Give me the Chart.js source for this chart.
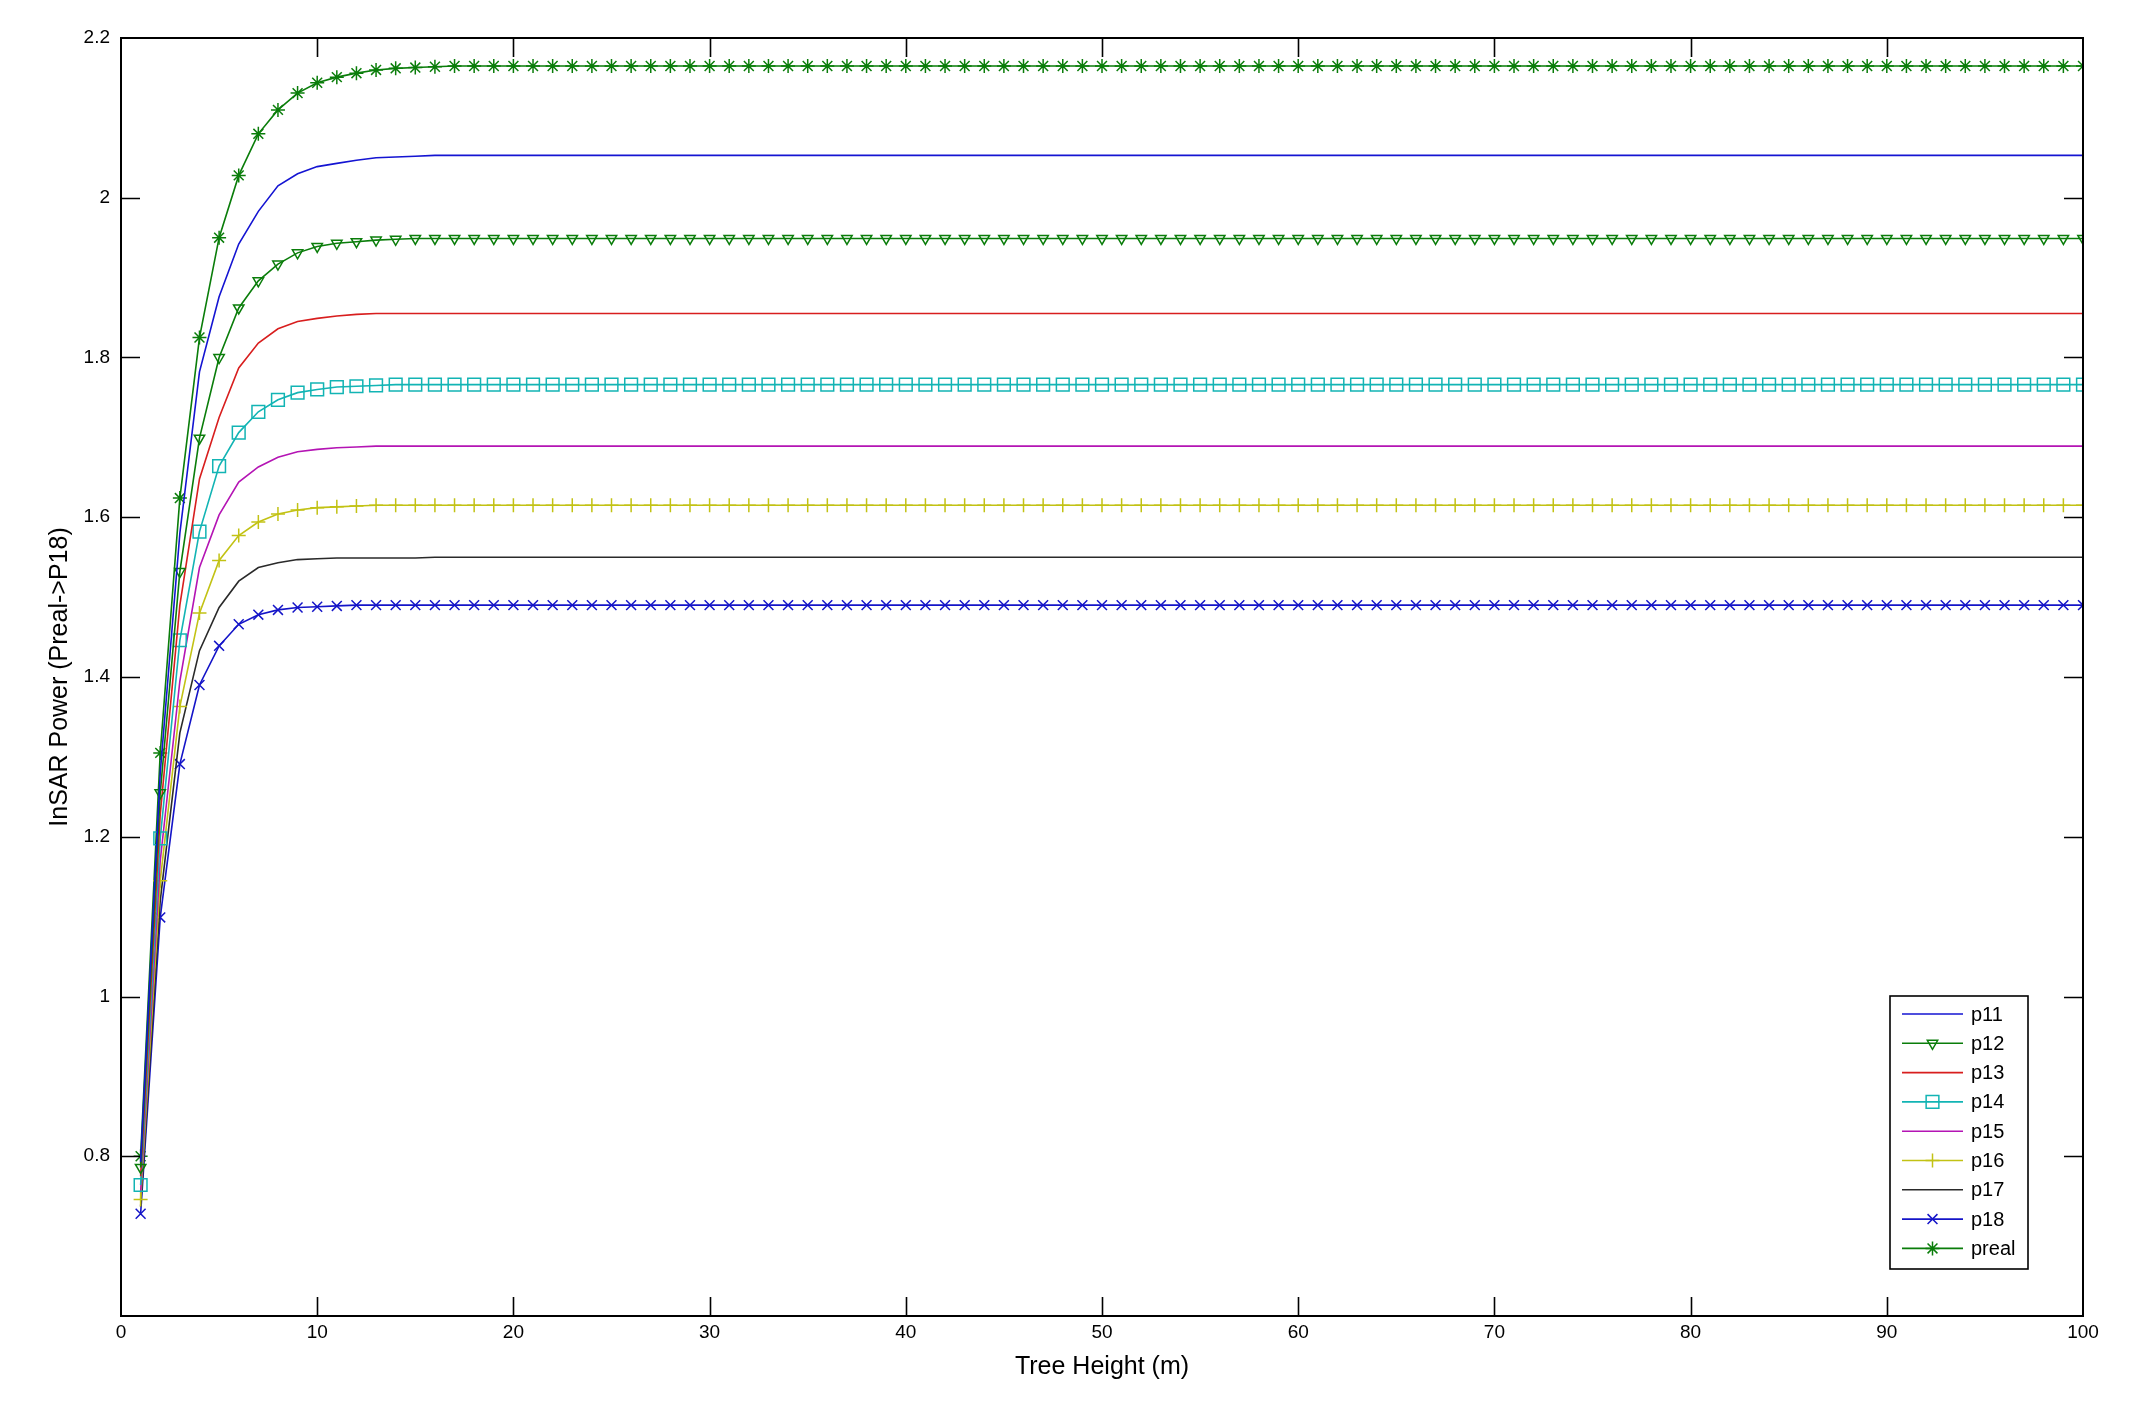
<!DOCTYPE html>
<html>
<head>
<meta charset="utf-8">
<title>InSAR Power vs Tree Height</title>
<script src="https://cdn.jsdelivr.net/npm/chart.js"></script>
<style>
  html, body { margin: 0; padding: 0; background: #fff; }
  #plot { display: block; }
</style>
</head>
<body>
<canvas id="plot" width="2138" height="1401"></canvas>
<script>
// Tree height samples (m), one per marker
const HEIGHTS = [
  1, 2, 3, 4, 5, 6, 7, 8, 9, 10,
  11, 12, 13, 14, 15, 16, 17, 18, 19, 20,
  21, 22, 23, 24, 25, 26, 27, 28, 29, 30,
  31, 32, 33, 34, 35, 36, 37, 38, 39, 40,
  41, 42, 43, 44, 45, 46, 47, 48, 49, 50,
  51, 52, 53, 54, 55, 56, 57, 58, 59, 60,
  61, 62, 63, 64, 65, 66, 67, 68, 69, 70,
  71, 72, 73, 74, 75, 76, 77, 78, 79, 80,
  81, 82, 83, 84, 85, 86, 87, 88, 89, 90,
  91, 92, 93, 94, 95, 96, 97, 98, 99, 100,
];

// InSAR power, x = 1..100
const P11 = [
  0.793, 1.280, 1.580, 1.782, 1.876, 1.942, 1.983, 2.015, 2.030, 2.039,
  2.043, 2.047, 2.050, 2.051, 2.052, 2.053, 2.053, 2.053, 2.053, 2.053,
  2.053, 2.053, 2.053, 2.053, 2.053, 2.053, 2.053, 2.053, 2.053, 2.053,
  2.053, 2.053, 2.053, 2.053, 2.053, 2.053, 2.053, 2.053, 2.053, 2.053,
  2.053, 2.053, 2.053, 2.053, 2.053, 2.053, 2.053, 2.053, 2.053, 2.053,
  2.053, 2.053, 2.053, 2.053, 2.053, 2.053, 2.053, 2.053, 2.053, 2.053,
  2.053, 2.053, 2.053, 2.053, 2.053, 2.053, 2.053, 2.053, 2.053, 2.053,
  2.053, 2.053, 2.053, 2.053, 2.053, 2.053, 2.053, 2.053, 2.053, 2.053,
  2.053, 2.053, 2.053, 2.053, 2.053, 2.053, 2.053, 2.053, 2.053, 2.053,
  2.053, 2.053, 2.053, 2.053, 2.053, 2.053, 2.053, 2.053, 2.053, 2.053,
];
const P12 = [
  0.786, 1.255, 1.532, 1.699, 1.800, 1.862, 1.896, 1.917, 1.931, 1.939,
  1.943, 1.945, 1.947, 1.948, 1.949, 1.949, 1.949, 1.949, 1.949, 1.949,
  1.949, 1.949, 1.949, 1.949, 1.949, 1.949, 1.949, 1.949, 1.949, 1.949,
  1.949, 1.949, 1.949, 1.949, 1.949, 1.949, 1.949, 1.949, 1.949, 1.949,
  1.949, 1.949, 1.949, 1.949, 1.949, 1.949, 1.949, 1.949, 1.949, 1.949,
  1.949, 1.949, 1.949, 1.949, 1.949, 1.949, 1.949, 1.949, 1.949, 1.949,
  1.949, 1.949, 1.949, 1.949, 1.949, 1.949, 1.949, 1.949, 1.949, 1.949,
  1.949, 1.949, 1.949, 1.949, 1.949, 1.949, 1.949, 1.949, 1.949, 1.949,
  1.949, 1.949, 1.949, 1.949, 1.949, 1.949, 1.949, 1.949, 1.949, 1.949,
  1.949, 1.949, 1.949, 1.949, 1.949, 1.949, 1.949, 1.949, 1.949, 1.949,
];
const P13 = [
  0.775, 1.228, 1.490, 1.648, 1.725, 1.787, 1.818, 1.836, 1.845, 1.849,
  1.852, 1.854, 1.855, 1.855, 1.855, 1.855, 1.855, 1.855, 1.855, 1.855,
  1.855, 1.855, 1.855, 1.855, 1.855, 1.855, 1.855, 1.855, 1.855, 1.855,
  1.855, 1.855, 1.855, 1.855, 1.855, 1.855, 1.855, 1.855, 1.855, 1.855,
  1.855, 1.855, 1.855, 1.855, 1.855, 1.855, 1.855, 1.855, 1.855, 1.855,
  1.855, 1.855, 1.855, 1.855, 1.855, 1.855, 1.855, 1.855, 1.855, 1.855,
  1.855, 1.855, 1.855, 1.855, 1.855, 1.855, 1.855, 1.855, 1.855, 1.855,
  1.855, 1.855, 1.855, 1.855, 1.855, 1.855, 1.855, 1.855, 1.855, 1.855,
  1.855, 1.855, 1.855, 1.855, 1.855, 1.855, 1.855, 1.855, 1.855, 1.855,
  1.855, 1.855, 1.855, 1.855, 1.855, 1.855, 1.855, 1.855, 1.855, 1.855,
];
const P14 = [
  0.764, 1.198, 1.446, 1.582, 1.664, 1.706, 1.732, 1.747, 1.756, 1.760,
  1.763, 1.764, 1.765, 1.766, 1.766, 1.766, 1.766, 1.766, 1.766, 1.766,
  1.766, 1.766, 1.766, 1.766, 1.766, 1.766, 1.766, 1.766, 1.766, 1.766,
  1.766, 1.766, 1.766, 1.766, 1.766, 1.766, 1.766, 1.766, 1.766, 1.766,
  1.766, 1.766, 1.766, 1.766, 1.766, 1.766, 1.766, 1.766, 1.766, 1.766,
  1.766, 1.766, 1.766, 1.766, 1.766, 1.766, 1.766, 1.766, 1.766, 1.766,
  1.766, 1.766, 1.766, 1.766, 1.766, 1.766, 1.766, 1.766, 1.766, 1.766,
  1.766, 1.766, 1.766, 1.766, 1.766, 1.766, 1.766, 1.766, 1.766, 1.766,
  1.766, 1.766, 1.766, 1.766, 1.766, 1.766, 1.766, 1.766, 1.766, 1.766,
  1.766, 1.766, 1.766, 1.766, 1.766, 1.766, 1.766, 1.766, 1.766, 1.766,
];
const P15 = [
  0.755, 1.170, 1.395, 1.537, 1.603, 1.644, 1.663, 1.675, 1.682, 1.685,
  1.687, 1.688, 1.689, 1.689, 1.689, 1.689, 1.689, 1.689, 1.689, 1.689,
  1.689, 1.689, 1.689, 1.689, 1.689, 1.689, 1.689, 1.689, 1.689, 1.689,
  1.689, 1.689, 1.689, 1.689, 1.689, 1.689, 1.689, 1.689, 1.689, 1.689,
  1.689, 1.689, 1.689, 1.689, 1.689, 1.689, 1.689, 1.689, 1.689, 1.689,
  1.689, 1.689, 1.689, 1.689, 1.689, 1.689, 1.689, 1.689, 1.689, 1.689,
  1.689, 1.689, 1.689, 1.689, 1.689, 1.689, 1.689, 1.689, 1.689, 1.689,
  1.689, 1.689, 1.689, 1.689, 1.689, 1.689, 1.689, 1.689, 1.689, 1.689,
  1.689, 1.689, 1.689, 1.689, 1.689, 1.689, 1.689, 1.689, 1.689, 1.689,
  1.689, 1.689, 1.689, 1.689, 1.689, 1.689, 1.689, 1.689, 1.689, 1.689,
];
const P16 = [
  0.746, 1.145, 1.363, 1.480, 1.546, 1.577, 1.594, 1.604, 1.609, 1.612,
  1.613, 1.614, 1.615, 1.615, 1.615, 1.615, 1.615, 1.615, 1.615, 1.615,
  1.615, 1.615, 1.615, 1.615, 1.615, 1.615, 1.615, 1.615, 1.615, 1.615,
  1.615, 1.615, 1.615, 1.615, 1.615, 1.615, 1.615, 1.615, 1.615, 1.615,
  1.615, 1.615, 1.615, 1.615, 1.615, 1.615, 1.615, 1.615, 1.615, 1.615,
  1.615, 1.615, 1.615, 1.615, 1.615, 1.615, 1.615, 1.615, 1.615, 1.615,
  1.615, 1.615, 1.615, 1.615, 1.615, 1.615, 1.615, 1.615, 1.615, 1.615,
  1.615, 1.615, 1.615, 1.615, 1.615, 1.615, 1.615, 1.615, 1.615, 1.615,
  1.615, 1.615, 1.615, 1.615, 1.615, 1.615, 1.615, 1.615, 1.615, 1.615,
  1.615, 1.615, 1.615, 1.615, 1.615, 1.615, 1.615, 1.615, 1.615, 1.615,
];
const P17 = [
  0.737, 1.120, 1.330, 1.433, 1.487, 1.520, 1.537, 1.543, 1.547, 1.548,
  1.549, 1.549, 1.549, 1.549, 1.549, 1.550, 1.550, 1.550, 1.550, 1.550,
  1.550, 1.550, 1.550, 1.550, 1.550, 1.550, 1.550, 1.550, 1.550, 1.550,
  1.550, 1.550, 1.550, 1.550, 1.550, 1.550, 1.550, 1.550, 1.550, 1.550,
  1.550, 1.550, 1.550, 1.550, 1.550, 1.550, 1.550, 1.550, 1.550, 1.550,
  1.550, 1.550, 1.550, 1.550, 1.550, 1.550, 1.550, 1.550, 1.550, 1.550,
  1.550, 1.550, 1.550, 1.550, 1.550, 1.550, 1.550, 1.550, 1.550, 1.550,
  1.550, 1.550, 1.550, 1.550, 1.550, 1.550, 1.550, 1.550, 1.550, 1.550,
  1.550, 1.550, 1.550, 1.550, 1.550, 1.550, 1.550, 1.550, 1.550, 1.550,
  1.550, 1.550, 1.550, 1.550, 1.550, 1.550, 1.550, 1.550, 1.550, 1.550,
];
const P18 = [
  0.728, 1.099, 1.291, 1.390, 1.439, 1.466, 1.478, 1.484, 1.487, 1.488,
  1.489, 1.490, 1.490, 1.490, 1.490, 1.490, 1.490, 1.490, 1.490, 1.490,
  1.490, 1.490, 1.490, 1.490, 1.490, 1.490, 1.490, 1.490, 1.490, 1.490,
  1.490, 1.490, 1.490, 1.490, 1.490, 1.490, 1.490, 1.490, 1.490, 1.490,
  1.490, 1.490, 1.490, 1.490, 1.490, 1.490, 1.490, 1.490, 1.490, 1.490,
  1.490, 1.490, 1.490, 1.490, 1.490, 1.490, 1.490, 1.490, 1.490, 1.490,
  1.490, 1.490, 1.490, 1.490, 1.490, 1.490, 1.490, 1.490, 1.490, 1.490,
  1.490, 1.490, 1.490, 1.490, 1.490, 1.490, 1.490, 1.490, 1.490, 1.490,
  1.490, 1.490, 1.490, 1.490, 1.490, 1.490, 1.490, 1.490, 1.490, 1.490,
  1.490, 1.490, 1.490, 1.490, 1.490, 1.490, 1.490, 1.490, 1.490, 1.490,
];
const PREAL = [
  0.800, 1.305, 1.624, 1.825, 1.950, 2.028, 2.080, 2.110, 2.131, 2.144,
  2.151, 2.156, 2.160, 2.162, 2.163, 2.164, 2.165, 2.165, 2.165, 2.165,
  2.165, 2.165, 2.165, 2.165, 2.165, 2.165, 2.165, 2.165, 2.165, 2.165,
  2.165, 2.165, 2.165, 2.165, 2.165, 2.165, 2.165, 2.165, 2.165, 2.165,
  2.165, 2.165, 2.165, 2.165, 2.165, 2.165, 2.165, 2.165, 2.165, 2.165,
  2.165, 2.165, 2.165, 2.165, 2.165, 2.165, 2.165, 2.165, 2.165, 2.165,
  2.165, 2.165, 2.165, 2.165, 2.165, 2.165, 2.165, 2.165, 2.165, 2.165,
  2.165, 2.165, 2.165, 2.165, 2.165, 2.165, 2.165, 2.165, 2.165, 2.165,
  2.165, 2.165, 2.165, 2.165, 2.165, 2.165, 2.165, 2.165, 2.165, 2.165,
  2.165, 2.165, 2.165, 2.165, 2.165, 2.165, 2.165, 2.165, 2.165, 2.165,
];

const SERIES_NAMES = ['p11', 'p12', 'p13', 'p14', 'p15', 'p16', 'p17', 'p18', 'preal'];
const X_TICKS = [0, 10, 20, 30, 40, 50, 60, 70, 80, 90, 100];
const Y_TICKS = [0.8, 1, 1.2, 1.4, 1.6, 1.8, 2, 2.2];

// MATLAB-ish line specs: colour, marker, marker radius
const STYLE = {
  p11:   { color: '#1414d2', marker: false },
  p12:   { color: '#0a7d0a', marker: 'triangle', radius: 6, rotation: 180 },
  p13:   { color: '#d81e1e', marker: false },
  p14:   { color: '#12b4b4', marker: 'rect', radius: 9 },
  p15:   { color: '#b414b4', marker: false },
  p16:   { color: '#c2c214', marker: 'cross', radius: 7 },
  p17:   { color: '#2a2a2a', marker: false },
  p18:   { color: '#1414c8', marker: 'crossRot', radius: 7 },
  preal: { color: '#0a7d0a', marker: 'star', radius: 7 },
};

const FONT = "'Liberation Sans', Arial, Helvetica, sans-serif";
const TICK_LEN = 19;

const VALUES = [P11, P12, P13, P14, P15, P16, P17, P18, PREAL];

function toPoints(ys) {
  return ys.map((y, i) => ({ x: HEIGHTS[i], y }));
}

const datasets = SERIES_NAMES.map((name, i) => {
  const s = STYLE[name];
  return {
    label: name,
    data: toPoints(VALUES[i]),
    borderColor: s.color,
    backgroundColor: 'rgba(0,0,0,0)',
    borderWidth: 1.6,
    tension: 0,
    pointStyle: s.marker || 'circle',
    pointRadius: s.marker ? s.radius : 0,
    pointRotation: s.rotation || 0,
    pointBorderColor: s.color,
    pointBackgroundColor: 'rgba(0,0,0,0)',
    pointBorderWidth: 1.5,
    pointHoverRadius: s.marker ? s.radius : 0,
  };
});

// ---------- axes box, inward ticks, boxed legend --------------------------

const matlabAxes = {
  id: 'matlabAxes',
  afterDatasetsDraw(chart) {
    const { ctx, chartArea: a, scales: { x, y } } = chart;
    ctx.save();
    ctx.strokeStyle = '#000';
    ctx.lineWidth = 1.6;
    ctx.beginPath();
    for (const v of X_TICKS) {
      if (v === x.min || v === x.max) continue;
      const px = Math.round(x.getPixelForValue(v)) + 0.5;
      ctx.moveTo(px, a.bottom); ctx.lineTo(px, a.bottom - TICK_LEN);
      ctx.moveTo(px, a.top);    ctx.lineTo(px, a.top + TICK_LEN);
    }
    for (const v of Y_TICKS) {
      if (v === y.min || v === y.max) continue;
      const py = Math.round(y.getPixelForValue(v)) + 0.5;
      ctx.moveTo(a.left, py);  ctx.lineTo(a.left + TICK_LEN, py);
      ctx.moveTo(a.right, py); ctx.lineTo(a.right - TICK_LEN, py);
    }
    ctx.stroke();
    ctx.lineWidth = 2;
    ctx.strokeRect(a.left, a.top, a.right - a.left, a.bottom - a.top);
    ctx.restore();
  },
  afterDraw(chart) {
    // legend box in the lower-right corner of the axes
    const { ctx, chartArea: a } = chart;
    const boxW = 138, boxH = 273, rowH = 29.3;
    const bx = a.right - 55 - boxW;
    const by = a.bottom - 47 - boxH;
    ctx.save();
    ctx.fillStyle = '#fff';
    ctx.fillRect(bx, by, boxW, boxH);
    ctx.strokeStyle = '#000';
    ctx.lineWidth = 1.6;
    ctx.strokeRect(bx, by, boxW, boxH);
    ctx.font = `20px ${FONT}`;
    ctx.textBaseline = 'middle';
    chart.data.datasets.forEach((ds, i) => {
      const cy = by + 18 + i * rowH;
      const x0 = bx + 12, x1 = bx + 73;
      ctx.strokeStyle = ds.borderColor;
      ctx.lineWidth = ds.borderWidth;
      ctx.beginPath();
      ctx.moveTo(x0, cy); ctx.lineTo(x1, cy);
      ctx.stroke();
      if (ds.pointRadius > 0 && Chart.helpers && Chart.helpers.drawPoint) {
        ctx.fillStyle = 'rgba(0,0,0,0)';
        ctx.lineWidth = ds.pointBorderWidth;
        Chart.helpers.drawPoint(ctx, {
          pointStyle: ds.pointStyle,
          rotation: ds.pointRotation,
          radius: ds.pointRadius,
          borderWidth: ds.pointBorderWidth,
        }, (x0 + x1) / 2, cy);
      }
      ctx.fillStyle = '#000';
      ctx.fillText(ds.label, bx + 81, cy + 1);
    });
    ctx.restore();
  },
};

new Chart(document.getElementById('plot'), {
  type: 'line',
  data: { datasets },
  plugins: [matlabAxes],
  options: {
    responsive: false,
    animation: false,
    devicePixelRatio: 1,
    layout: { padding: { top: 38, right: 55, left: 0, bottom: 0 } },
    plugins: {
      legend: { display: false },
      tooltip: { enabled: false },
    },
    scales: {
      x: {
        type: 'linear',
        min: 0,
        max: 100,
        grid: { display: false, drawTicks: false },
        border: { display: false },
        afterBuildTicks: (scale) => { scale.ticks = X_TICKS.map((value) => ({ value })); },
        afterFit: (scale) => { scale.height = 85; },
        ticks: {
          color: '#000',
          padding: 5,
          maxRotation: 0,
          font: { family: FONT, size: 19 },
        },
        title: {
          display: true,
          text: 'Tree Height (m)',
          color: '#000',
          font: { family: FONT, size: 25 },
          padding: { top: 0, bottom: 19 },
        },
      },
      y: {
        type: 'linear',
        min: 0.6,
        max: 2.2,
        grid: { display: false, drawTicks: false },
        border: { display: false },
        afterBuildTicks: (scale) => { scale.ticks = Y_TICKS.map((value) => ({ value })); },
        afterFit: (scale) => { scale.width = 121; },
        ticks: {
          color: '#000',
          padding: 11,
          font: { family: FONT, size: 19 },
          callback: (v) => String(Number(v.toFixed(1))),
        },
        title: {
          display: true,
          text: 'InSAR Power (Preal->P18)',
          color: '#000',
          font: { family: FONT, size: 25 },
          padding: { top: 45, bottom: 0 },
        },
      },
    },
  },
});
</script>
</body>
</html>
